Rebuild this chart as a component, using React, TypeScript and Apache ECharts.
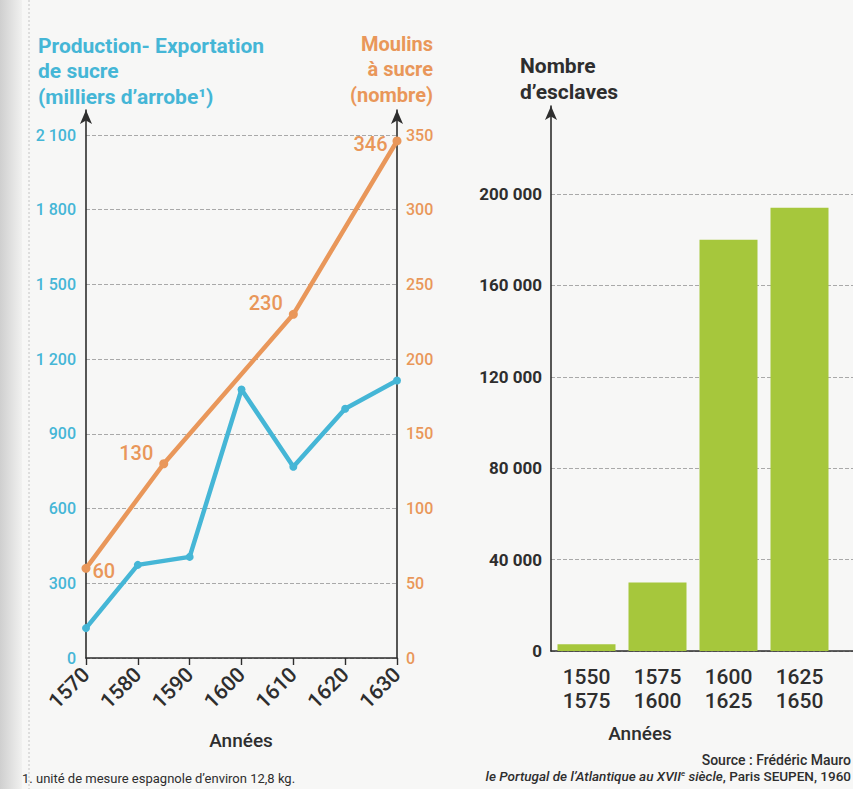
import React, { useEffect, useRef } from "react";
import * as echarts from "echarts";

const years = [1570, 1580, 1590, 1600, 1610, 1620, 1630];
const sugarExport = [120, 374, 406, 1078, 768, 1001, 1114];
const millYears = [1570, 1585, 1610, 1630];
const millCounts = [60, 130, 230, 346];
const millLabelPos = ["right", "left", "left", "left"];
const slavePeriods = ["1550\n1575", "1575\n1600", "1600\n1625", "1625\n1650"];
const slaveCounts = [3000, 30000, 180000, 194000];

const BLUE = "#45b6d6";
const ORANGE = "#e9975a";
const GREEN = "#a6c73c";
const DARK = "#2e2e2e";
const FONT = "Roboto";

const spaced = (v: number) => String(v).replace(/\B(?=(\d{3})+(?!\d))/g, " ");

export default function App() {
  const ref = useRef<HTMLDivElement>(null);
  useEffect(() => {
    if (!ref.current) return;
    const chart = echarts.init(ref.current, null, { renderer: "svg" });
    const arrowLine = {
      show: true,
      onZero: false,
      symbol: ["none", "arrow"],
      symbolSize: [9, 14],
      lineStyle: { color: DARK, width: 1.6 },
    };
    const hiddenAxis = { show: false, type: "value", min: 0, max: 1 };
    const dashed = { show: true, lineStyle: { color: "#a9a9a9", type: "dashed", width: 1 } };

    chart.setOption({
      animation: false,
      backgroundColor: "#f7f7f6",
      grid: [
        { left: 86, right: 456, top: 135, bottom: 131 },
        { left: 86, right: 456, top: 110, bottom: 131 },
        { left: 551, right: 18, top: 194, bottom: 138 },
        { left: 551, right: 0, top: 194, bottom: 138 },
        { left: 551, right: 0, top: 106, bottom: 138 },
      ],
      xAxis: [
        {
          gridIndex: 0,
          type: "value",
          min: 1570,
          max: 1630,
          interval: 10,
          axisLine: { show: true, onZero: false, lineStyle: { color: DARK, width: 1.6 } },
          axisTick: { show: true, inside: false, length: 7, lineStyle: { color: DARK, width: 1.4 } },
          axisLabel: {
            rotate: 45,
            margin: 13,
            color: DARK,
            fontSize: 21,
            fontWeight: 500,
            fontFamily: FONT,
            formatter: (v: number) => String(v),
          },
          splitLine: { show: false },
        },
        { ...hiddenAxis, gridIndex: 1 },
        {
          gridIndex: 2,
          type: "category",
          data: slavePeriods,
          axisLine: { show: false },
          axisTick: { show: false },
          axisLabel: {
            margin: 14,
            color: DARK,
            fontSize: 21,
            lineHeight: 24,
            fontWeight: 500,
            fontFamily: FONT,
          },
        },
        {
          gridIndex: 3,
          type: "value",
          min: 0,
          max: 1,
          axisLine: { show: true, onZero: false, lineStyle: { color: DARK, width: 1.6 } },
          axisTick: { show: false },
          axisLabel: { show: false },
          splitLine: { show: false },
        },
        { ...hiddenAxis, gridIndex: 4 },
      ],
      yAxis: [
        {
          gridIndex: 0,
          type: "value",
          min: 0,
          max: 2100,
          interval: 300,
          position: "left",
          axisLine: { show: false },
          axisTick: { show: false },
          axisLabel: {
            margin: 10,
            color: BLUE,
            fontSize: 16,
            fontWeight: 500,
            fontFamily: FONT,
            formatter: (v: number) => spaced(v),
          },
          splitLine: dashed,
        },
        {
          gridIndex: 0,
          type: "value",
          min: 0,
          max: 350,
          interval: 50,
          position: "right",
          axisLine: { show: false },
          axisTick: { show: false },
          axisLabel: {
            margin: 9,
            color: ORANGE,
            fontSize: 16,
            fontWeight: 500,
            fontFamily: FONT,
          },
          splitLine: { show: false },
        },
        {
          gridIndex: 1,
          type: "value",
          min: 0,
          max: 1,
          position: "left",
          axisLine: arrowLine,
          axisTick: { show: false },
          axisLabel: { show: false },
          splitLine: { show: false },
        },
        {
          gridIndex: 1,
          type: "value",
          min: 0,
          max: 1,
          position: "right",
          axisLine: arrowLine,
          axisTick: { show: false },
          axisLabel: { show: false },
          splitLine: { show: false },
        },
        {
          gridIndex: 2,
          type: "value",
          min: 0,
          max: 200000,
          interval: 40000,
          show: false,
        },
        {
          gridIndex: 3,
          type: "value",
          min: 0,
          max: 200000,
          interval: 40000,
          axisLine: { show: false },
          axisTick: { show: false },
          axisLabel: {
            margin: 9,
            color: DARK,
            fontSize: 17,
            fontWeight: "bold",
            fontFamily: FONT,
            formatter: (v: number) => spaced(v),
          },
          splitLine: dashed,
        },
        {
          gridIndex: 4,
          type: "value",
          min: 0,
          max: 1,
          axisLine: arrowLine,
          axisTick: { show: false },
          axisLabel: { show: false },
          splitLine: { show: false },
        },
      ],
      series: [
        {
          type: "line",
          xAxisIndex: 0,
          yAxisIndex: 0,
          data: years.map((y, i) => [y, sugarExport[i]]),
          symbol: "circle",
          symbolSize: 8,
          lineStyle: { color: BLUE, width: 4.5 },
          itemStyle: { color: BLUE },
          z: 3,
        },
        {
          type: "line",
          xAxisIndex: 0,
          yAxisIndex: 1,
          data: millYears.map((y, i) => ({
            value: [y, millCounts[i]],
            label: {
              position: millLabelPos[i],
              offset: i === 0 ? [-2, 3] : i === 3 ? [-1, 3] : [-2, -11],
            },
          })),
          symbol: "circle",
          symbolSize: 9,
          lineStyle: { color: ORANGE, width: 4.5 },
          itemStyle: { color: ORANGE },
          label: {
            show: true,
            color: ORANGE,
            fontSize: 20,
            fontWeight: 500,
            fontFamily: FONT,
            distance: 4,
            formatter: (p: any) => String(p.value[1]),
          },
          z: 4,
        },
        {
          type: "bar",
          xAxisIndex: 2,
          yAxisIndex: 4,
          data: slaveCounts,
          barWidth: 58,
          itemStyle: { color: GREEN },
        },
      ],
      graphic: [
        {
          type: "rect",
          shape: { x: 0, y: 0, width: 22, height: 789 },
          style: {
            fill: new echarts.graphic.LinearGradient(0, 0, 1, 0, [
              { offset: 0, color: "#cfcfcf" },
              { offset: 1, color: "#f1f1f0" },
            ]),
          },
          silent: true,
          z: -1,
        },
        {
          type: "line",
          shape: { x1: 29, y1: 0, x2: 29, y2: 789 },
          style: { stroke: "#c4c4c4", lineDash: [2, 2], lineWidth: 1 },
          silent: true,
          z: -1,
        },
        {
          type: "text",
          x: 38,
          y: 33,
          style: {
            text: "Production- Exportation\nde sucre\n(milliers d’arrobe¹)",
            fill: BLUE,
            font: `bold 21px ${FONT}`,
            lineHeight: 25.5,
            align: "left",
            verticalAlign: "top",
          },
        },
        {
          type: "text",
          x: 433,
          y: 31,
          style: {
            text: "Moulins\nà sucre\n(nombre)",
            fill: ORANGE,
            font: `bold 20px ${FONT}`,
            lineHeight: 25.5,
            align: "right",
            verticalAlign: "top",
          },
        },
        {
          type: "text",
          x: 520,
          y: 53,
          style: {
            text: "Nombre\nd’esclaves",
            fill: DARK,
            font: `bold 21px ${FONT}`,
            lineHeight: 26,
            align: "left",
            verticalAlign: "top",
          },
        },
        {
          type: "text",
          x: 241,
          y: 740,
          style: {
            text: "Années",
            fill: DARK,
            font: `500 19px ${FONT}`,
            align: "center",
            verticalAlign: "middle",
          },
        },
        {
          type: "text",
          x: 640,
          y: 733,
          style: {
            text: "Années",
            fill: DARK,
            font: `500 19px ${FONT}`,
            align: "center",
            verticalAlign: "middle",
          },
        },
        {
          type: "text",
          x: 851,
          y: 760,
          style: {
            text: "Source : Frédéric Mauro",
            fill: DARK,
            font: `500 14px ${FONT}`,
            align: "right",
            verticalAlign: "middle",
          },
        },
        {
          type: "text",
          x: 851,
          y: 776,
          style: {
            text: "{i|le Portugal de l’Atlantique au XVII}{s|e}{i| siècle}{n|, Paris SEUPEN, 1960}",
            align: "right",
            verticalAlign: "middle",
            rich: {
              i: { fill: DARK, font: `italic 500 13.5px ${FONT}` },
              s: { fill: DARK, font: `italic 500 8px ${FONT}`, verticalAlign: "top", padding: [0, 0, 6, 0] },
              n: { fill: DARK, font: `500 13.5px ${FONT}` },
            },
          },
        },
        {
          type: "text",
          x: 22,
          y: 778,
          style: {
            text: "1. unité de mesure espagnole d’environ 12,8 kg.",
            fill: DARK,
            font: `13px ${FONT}`,
            align: "left",
            verticalAlign: "middle",
          },
        },
      ],
    });
    return () => chart.dispose();
  }, []);
  return (
    <div
      ref={ref}
      style={{ position: "fixed", left: 0, top: 0, width: 853, height: 789 }}
    />
  );
}
